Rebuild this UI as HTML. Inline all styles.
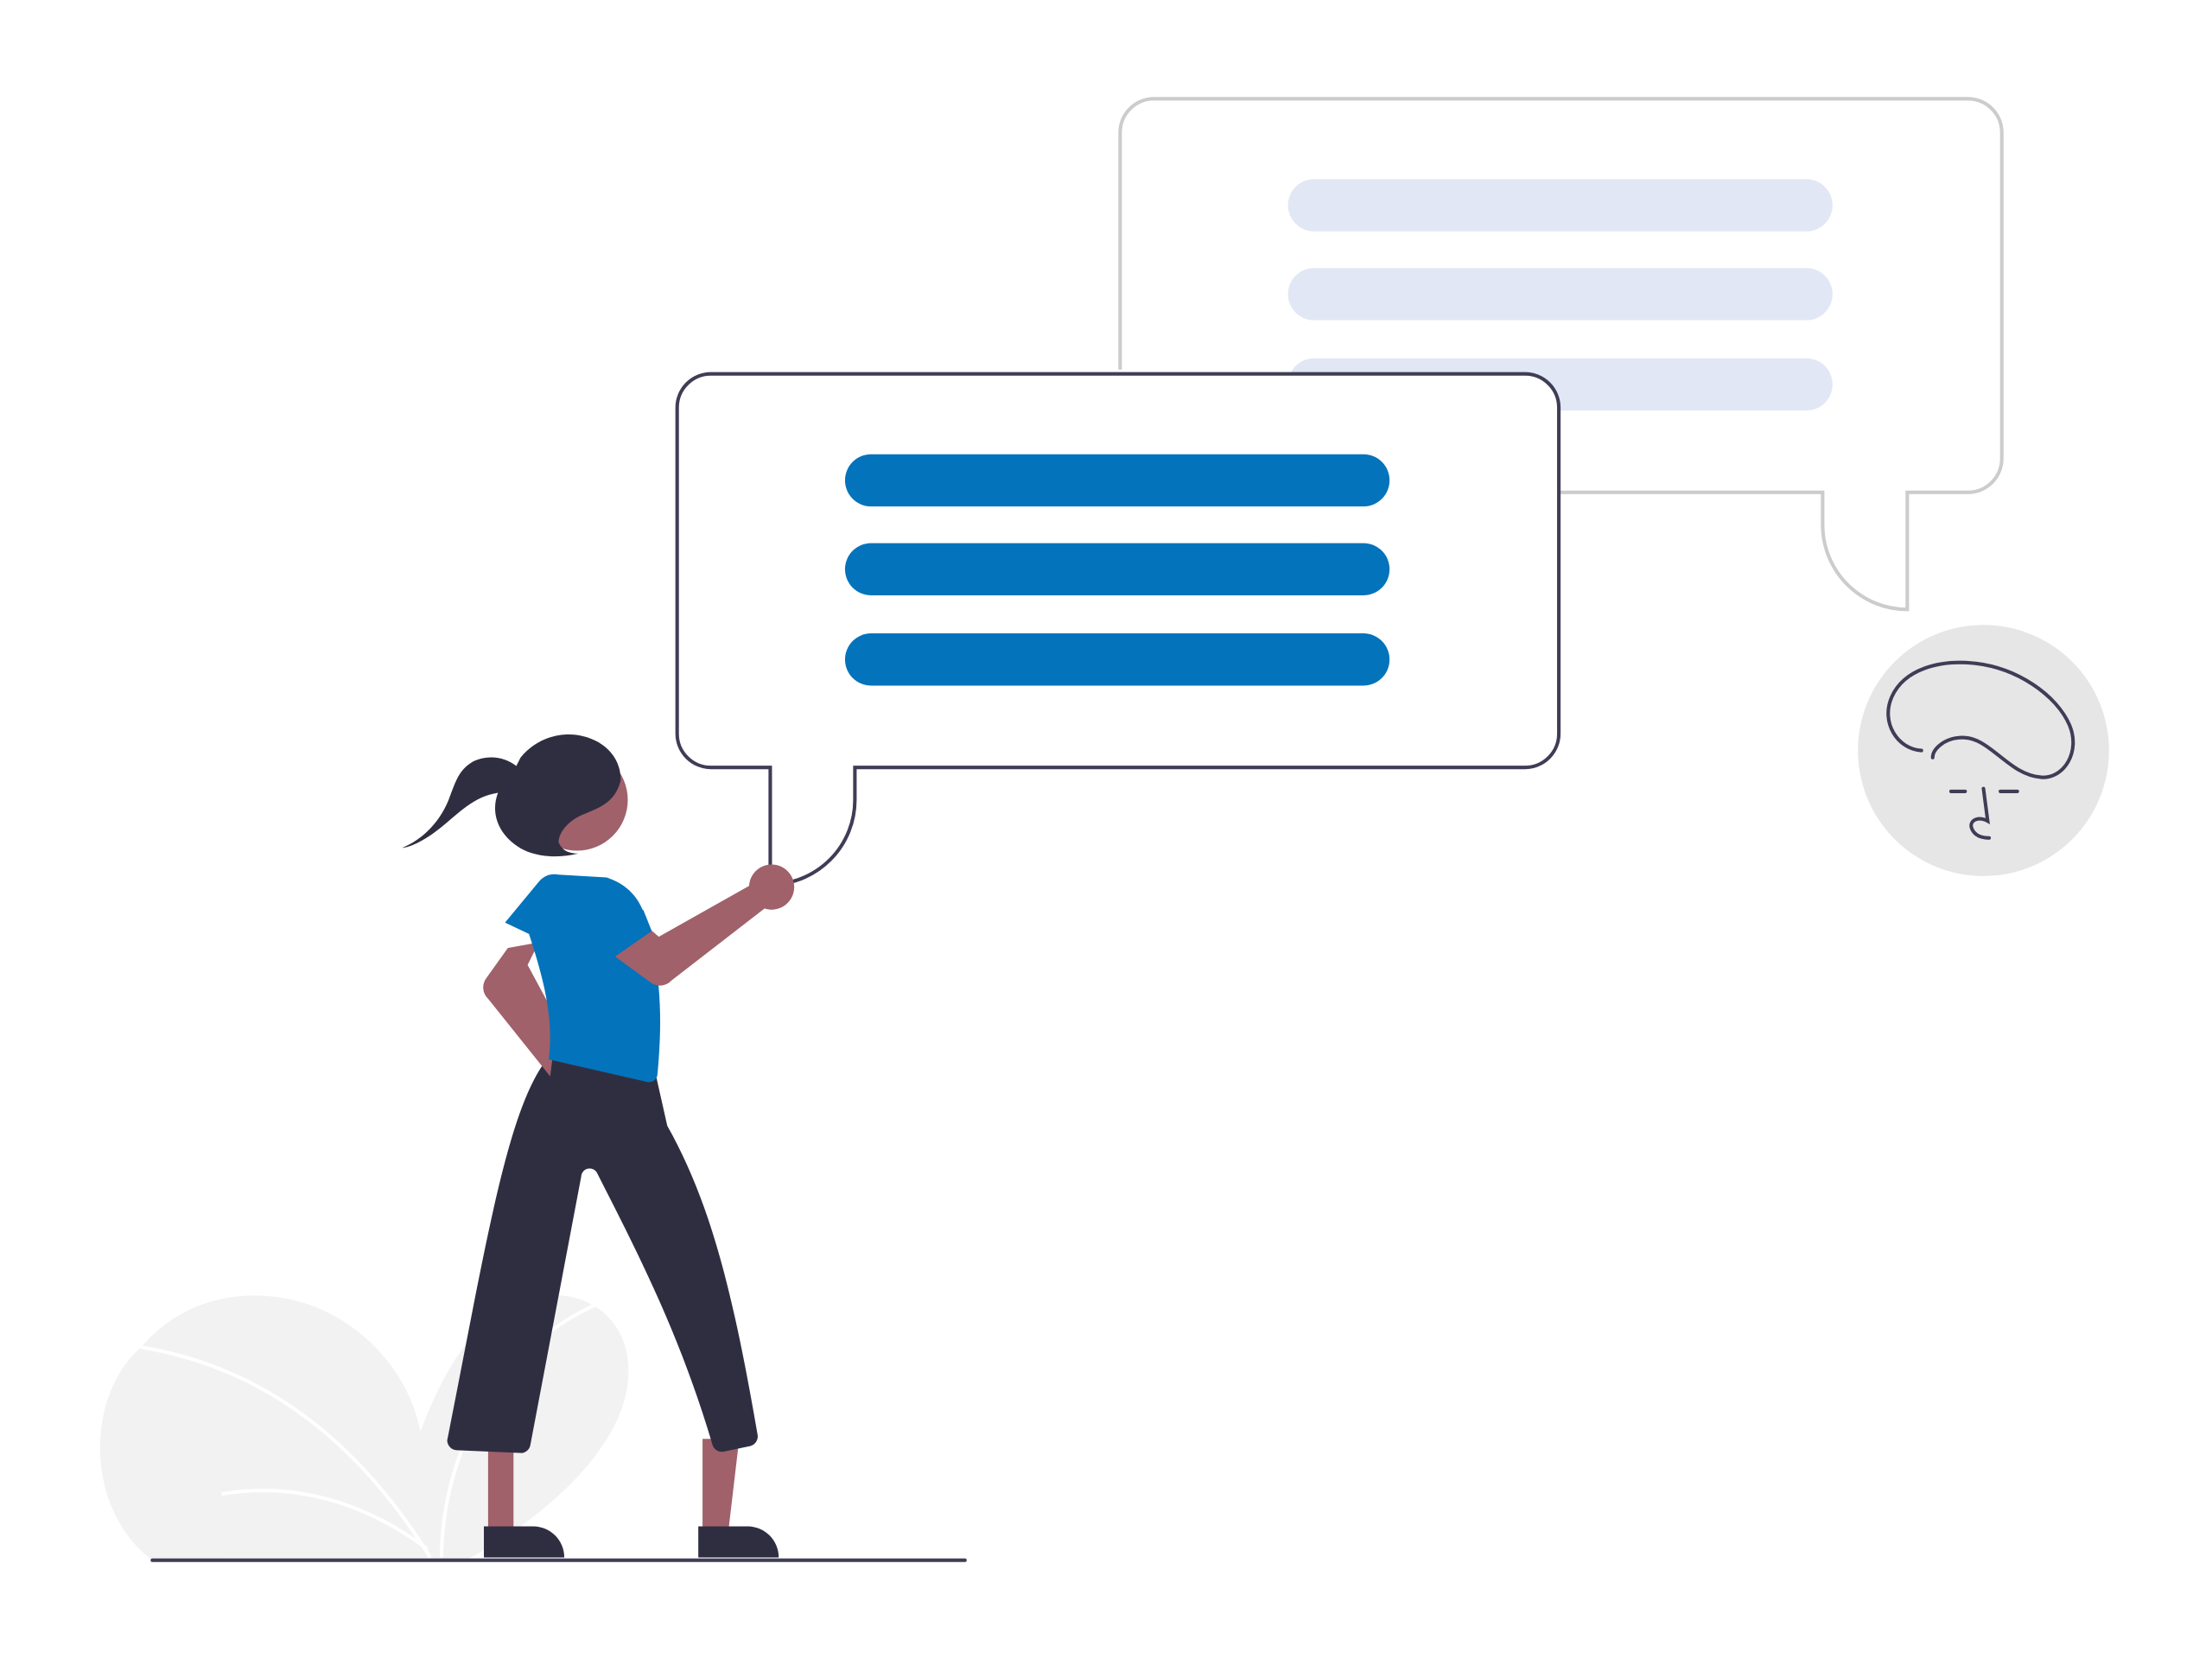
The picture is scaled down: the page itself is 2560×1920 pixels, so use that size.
<!DOCTYPE html>
<html><head><meta charset="utf-8"><style>
html,body{margin:0;padding:0;background:#fff;}
svg{display:block;}
</style></head><body>
<svg width="2560" height="1920" viewBox="0 0 1568 1176" xmlns="http://www.w3.org/2000/svg">
<!-- plant -->
<path d="M108 1106 C60 1070 60 990 100 955 C130 920 170 915 200 920 C250 928 290 970 298 1015 C315 970 335 935 375 920 C420 910 450 940 445 980 C440 1030 380 1080 330 1106 Z" fill="#f2f2f2"/>
<path d="M100 955 C180 968 250 1015 305 1104" stroke="#fff" stroke-width="2.5" fill="none"/>
<path d="M157 1059 C210 1050 260 1066 303 1098" stroke="#fff" stroke-width="2.5" fill="none"/>
<path d="M313 1104 C313 1040 345 960 422 925" stroke="#fff" stroke-width="2.5" fill="none"/>
<!-- back bubble -->
<path d="M794 262 V94 A24 24 0 0 1 818 70 H1395 A24 24 0 0 1 1419 94 V325 A24 24 0 0 1 1395 349 H1352 V432 A60 60 0 0 1 1292 372 V349 H1105" fill="#fff" stroke="#ccc" stroke-width="2.5"/>
<rect x="913" y="127" width="386" height="37" rx="18.5" fill="#e1e7f4"/>
<rect x="913" y="190" width="386" height="37" rx="18.5" fill="#e1e7f4"/>
<rect x="913" y="254" width="386" height="37" rx="18.5" fill="#e1e7f4"/>
<!-- front bubble -->
<path d="M504 265 H1081 A24 24 0 0 1 1105 289 V520 A24 24 0 0 1 1081 544 H606 V567 A60 60 0 0 1 546 627 V544 H504 A24 24 0 0 1 480 520 V289 A24 24 0 0 1 504 265 Z" fill="#fff" stroke="#3f3d56" stroke-width="2.5"/>
<rect x="599" y="322" width="386" height="37" rx="18.5" fill="#0373bb"/>
<rect x="599" y="385" width="386" height="37" rx="18.5" fill="#0373bb"/>
<rect x="599" y="449" width="386" height="37" rx="18.5" fill="#0373bb"/>
<!-- face circle -->
<circle cx="1406" cy="532" r="89" fill="#e6e6e6"/>
<g stroke="#3f3d56" stroke-width="2.5" fill="none" stroke-linecap="round">
<path d="M1362 532 C1345 531 1333 512 1341 494 C1350 474 1375 468 1398 470 C1430 473 1458 493 1467 514 C1475 533 1463 552 1447 551 C1422 549 1410 520 1388 523 C1378 524 1370 531 1370 537"/>
<path d="M1383 561 H1393 M1418 561 H1430"/>
<path d="M1406 559 L1409 582 C1402 578 1395 582 1398 588 C1400 592 1404 594 1410 594"/>
</g>
<!-- ground -->
<line x1="108" y1="1106" x2="684" y2="1106" stroke="#3f3d56" stroke-width="2.5" stroke-linecap="round"/>
<!-- person legs -->
<rect x="346" y="1020" width="18" height="68" fill="#a0616a"/>
<path d="M498 1020 H524 L516 1088 H498 Z" fill="#a0616a"/>
<path d="M343 1082 H378 A22 22 0 0 1 400 1104 H343 Z" fill="#2f2e41"/>
<path d="M495 1082 H530 A22 22 0 0 1 552 1104 H495 Z" fill="#2f2e41"/>
<path d="M390 748 C360 782 345 880 317 1021 A7 7 0 0 0 324 1028 L370 1030 A7 7 0 0 0 376 1024 L412 834 A6 6 0 0 1 423 831 C452 888 482 946 505 1024 A7 7 0 0 0 513 1029 L532 1025 A7 7 0 0 0 537 1017 C520 918 504 853 473 798 L464 758 Z" fill="#2f2e41"/>
<!-- left arm -->
<path d="M360 672 L345 693 A11 11 0 0 0 346 708 L390 763 L395 723 L374 684 L382 668 Z" fill="#a0616a"/>
<!-- torso -->
<path d="M396 620 L430 622 C448 628 455 640 459 655 C468 690 470 720 466 762 A6 6 0 0 1 459 767 L389 751 C393 720 384 690 375 662 L358 654 L382 625 A14 14 0 0 1 396 620 Z" fill="#0373bb"/>
<!-- right arm -->
<path d="M436 678 L462 697 A11 11 0 0 0 476 695 L542 644 A16 16 0 1 0 531 628 L467 664 L460 658 Z" fill="#a0616a"/>
<path d="M436 678 L462 660 L456 645 L432 650 Z" fill="#0373bb"/>
<!-- head -->
<circle cx="409" cy="567" r="36" fill="#a0616a"/>
<path d="M410 605 C394 609 377 607 367 600 C352 590 348 575 353 562 C335 565 326 576 312 587 C301 596 290 601 285 601 C300 595 312 582 318 567 C323 554 325 546 335 540 C345 535 357 536 366 543 L369 537 C383 520 406 516 424 526 C434 532 440 541 440 553 C436 570 423 573 412 578 C403 582 396 590 396 597 C398 602 402 605 410 605 Z" fill="#2f2e41"/>
</svg>
</body></html>
